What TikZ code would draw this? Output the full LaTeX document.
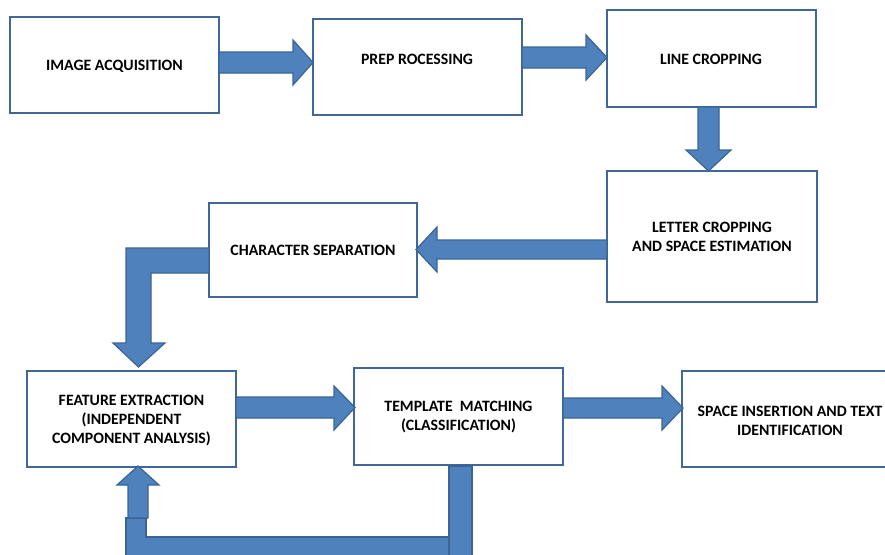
\documentclass[tikz,border=0pt]{standalone}
\usepackage{fontspec}
\setmainfont{Carlito}
\definecolor{boxline}{HTML}{41679A}
\definecolor{arrfill}{HTML}{4F81BD}
\definecolor{arrline}{HTML}{3A6496}
\begin{document}
\begin{tikzpicture}[x=1pt,y=-1pt,
  stepbox/.style={draw=boxline,line width=1.8pt,fill=white},
  lbl/.style={inner sep=0pt,align=center,font=\fontsize{15.8}{19}\selectfont\bfseries},
  barrow/.style={fill=arrfill,draw=arrline,line width=1.2pt,line join=miter}]
\useasboundingbox (0,0) rectangle (885,554);
\clip (0,0) rectangle (885,554);
% boxes
\draw[stepbox] (10,17) rectangle (219,113);
\draw[stepbox] (313,19) rectangle (522,115);
\draw[stepbox] (607,10) rectangle (816,107);
\draw[stepbox] (607,171) rectangle (817,302);
\draw[stepbox] (209,203) rectangle (417,297);
\draw[stepbox] (27,371) rectangle (236,467);
\draw[stepbox] (354,368) rectangle (563,465);
\draw[stepbox] (682,371) rectangle (898,467);
% labels
\node[lbl] (t1) at (114.5,66) {IMAGE ACQUISITION};
\node[lbl] (t2) at (417,59) {PREP ROCESSING};
\node[lbl] (t3) at (711,59) {LINE CROPPING};
\node[lbl] (t4) at (712,237) {LETTER CROPPING\\AND SPACE ESTIMATION};
\node[lbl] (t5) at (313,250) {CHARACTER SEPARATION};
\node[lbl] (t6) at (131.5,421) {FEATURE EXTRACTION\\(INDEPENDENT\\COMPONENT ANALYSIS)};
\node[lbl] (t7) at (458.5,417.5) {TEMPLATE\ \ MATCHING\\(CLASSIFICATION)};
\node[lbl] (t8) at (790,421) {SPACE INSERTION AND TEXT\\IDENTIFICATION};
% block arrows
\draw[barrow] (219,52) -- (293,52) -- (293,40) -- (313,62.5) -- (293,85) -- (293,73) -- (219,73) -- cycle;
\draw[barrow] (522,47) -- (586,47) -- (586,35) -- (607,57.5) -- (586,80) -- (586,68) -- (522,68) -- cycle;
\draw[barrow] (698,107) -- (698,150) -- (686,150) -- (708.5,171) -- (731,150) -- (719,150) -- (719,107) -- cycle;
\draw[barrow] (607,240) -- (437,240) -- (437,227) -- (416,249.5) -- (437,272) -- (437,259) -- (607,259) -- cycle;
\draw[barrow] (209,248) -- (126,248) -- (126,343) -- (113,343) -- (138.5,367) -- (165,343) -- (151,343) -- (151,273) -- (209,273) -- cycle;
\draw[barrow] (236,397) -- (334,397) -- (334,386) -- (355,407.5) -- (334,430) -- (334,418) -- (236,418) -- cycle;
\draw[barrow] (563,398) -- (662,398) -- (662,386) -- (683,408) -- (662,430) -- (662,418) -- (563,418) -- cycle;
% feedback loop
\draw[barrow] (126,518) -- (146,518) -- (146,537) -- (449,537) -- (449,562) -- (126,562) -- cycle;
\draw[barrow] (449,466) rectangle (472,562);
\draw[barrow] (128,518) -- (128,485) -- (117,485) -- (138,466) -- (159,485) -- (148,485) -- (148,518) -- cycle;
\end{tikzpicture}
\end{document}
